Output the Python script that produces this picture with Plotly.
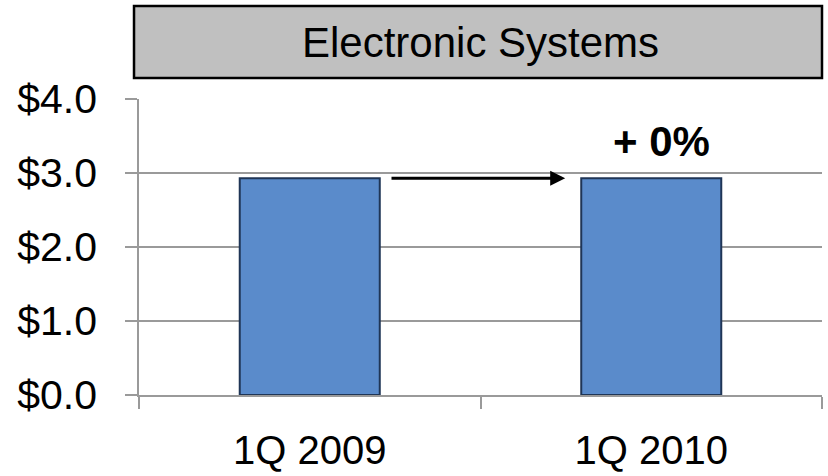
import plotly.graph_objects as go

categories = ["1Q 2009", "1Q 2010"]
values = [2.93, 2.93]
y_ticks = [0, 1, 2, 3, 4]
y_tick_labels = ["$0.0", "$1.0", "$2.0", "$3.0", "$4.0"]
title_text = "Electronic Systems"
change_label = "+ 0%"

FONT = "Liberation Sans, Arial, sans-serif"
GRID = "#9a9a9a"

fig = go.Figure()
fig.add_trace(go.Bar(
    x=categories, y=values,
    marker=dict(color="#5A8BCB", line=dict(color="#1F3556", width=2)),
    width=0.41,
    hoverinfo="skip",
))

# arrow between bars
fig.add_annotation(
    x=0.748, y=values[1], ax=0.235, ay=values[0],
    xref="x", yref="y", axref="x", ayref="y",
    text="", showarrow=True, arrowhead=2, arrowsize=1.0, arrowwidth=3,
    arrowcolor="black",
)
# change label
fig.add_annotation(
    x=1.03, y=3.43, xref="x", yref="y", text="<b>" + change_label + "</b>",
    xanchor="center", yanchor="middle",
    showarrow=False, font=dict(family=FONT, size=42, color="black"),
)

# title box
fig.add_shape(type="rect", xref="paper", yref="paper",
              x0=-0.0073, x1=1.0, y0=1.071, y1=1.314,
              fillcolor="#C0C0C0", line=dict(color="black", width=2.5), layer="below")
fig.add_annotation(x=0.5, y=1.19, xref="paper", yref="paper", text=title_text,
                   xanchor="center", yanchor="middle",
                   showarrow=False, font=dict(family=FONT, size=42, color="black"))

fig.update_layout(
    width=828, height=476,
    margin=dict(l=139, r=6, t=99, b=81),
    paper_bgcolor="white", plot_bgcolor="white",
    showlegend=False,
    font=dict(family=FONT, color="black"),
    xaxis=dict(
        automargin=False,
        showline=True, linecolor=GRID, linewidth=1.5,
        ticks="outside", tickson="boundaries", ticklen=12, tickcolor=GRID, tickwidth=1.5,
        tickfont=dict(family=FONT, size=40, color="black"),
        ticklabelstandoff=19,
        showgrid=False,
    ),
    yaxis=dict(
        automargin=False,
        range=[0, 4], tickvals=y_ticks, ticktext=y_tick_labels,
        showline=True, linecolor=GRID, linewidth=1.5,
        showgrid=True, gridcolor=GRID, gridwidth=1.5,
        ticks="outside", ticklen=12, tickcolor=GRID, tickwidth=1.5,
        tickfont=dict(family=FONT, size=41, color="black"),
        ticklabelstandoff=20,
        zeroline=False,
    ),
)

fig.write_html("out.html")
